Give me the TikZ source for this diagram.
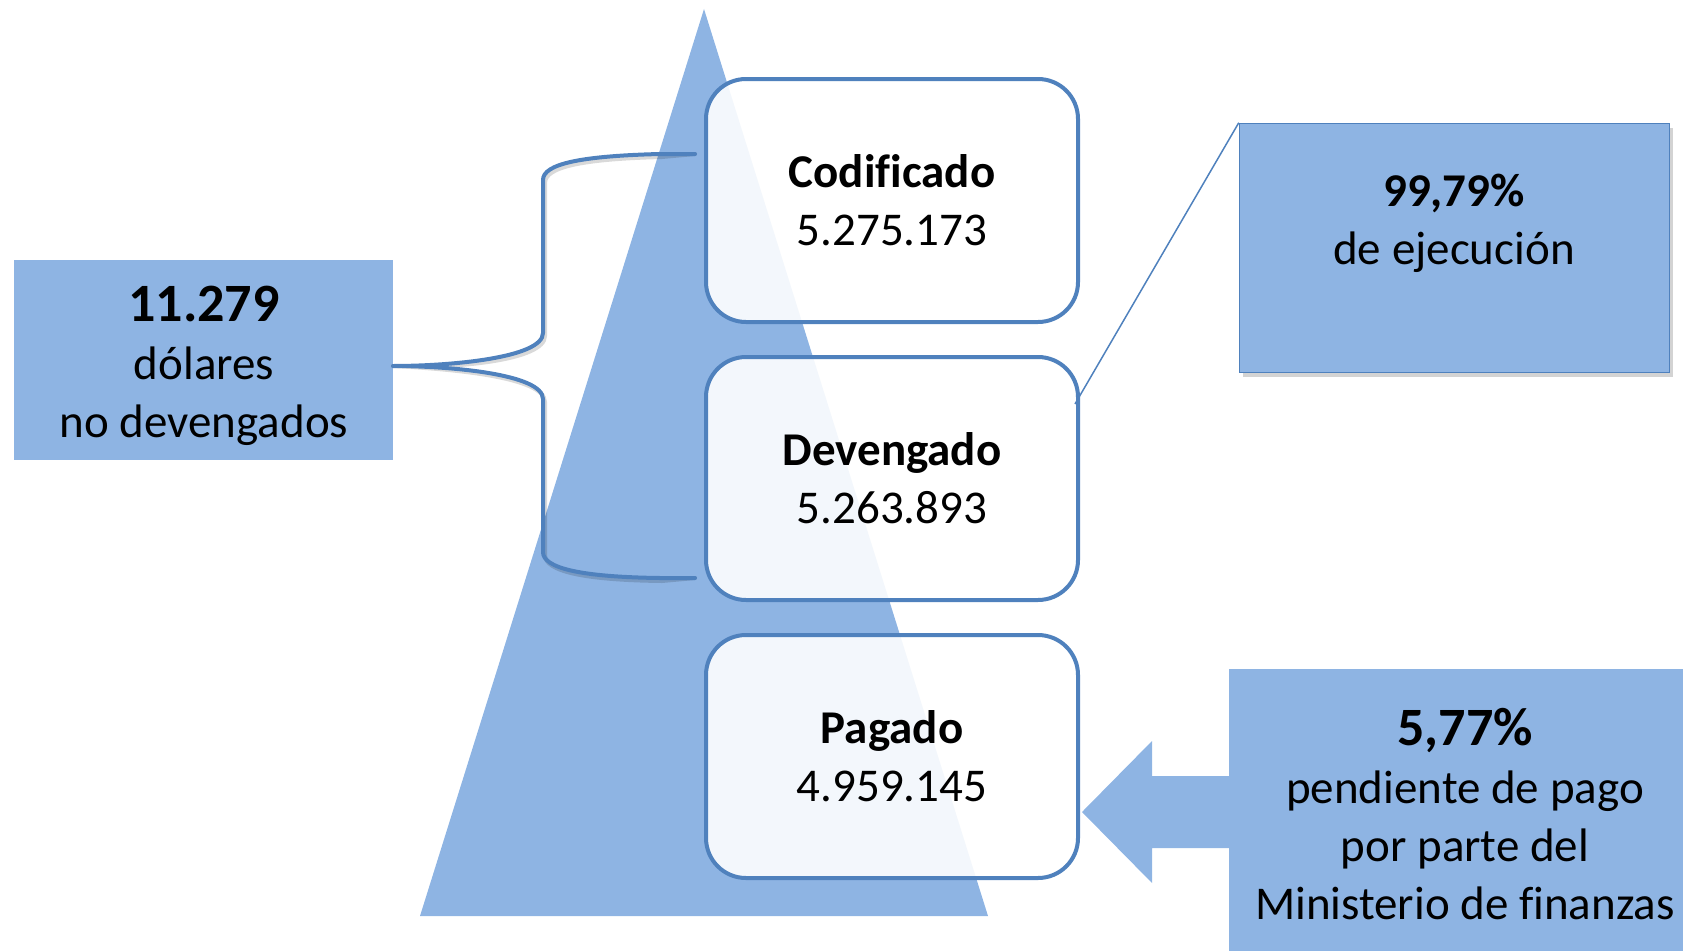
\documentclass[tikz,border=0pt]{standalone}
\usepackage{fontspec}
\setmainfont{Carlito}[Ligatures=NoCommon]
\usetikzlibrary{shadows}
\definecolor{fillblue}{HTML}{8EB4E3}
\definecolor{lineblue}{HTML}{4F81BD}
\newcommand{\bigfirst}[1]{{\fontsize{54}{64}\selectfont\textbf{#1}}}
\begin{document}
\begin{tikzpicture}[x=1pt,y=-1pt,
  txt/.style={font=\fontsize{47}{58}\selectfont, align=center, text=black},
  stage/.style={txt, draw=lineblue, line width=4pt, rounded corners=40pt, fill=white, fill opacity=0.9, text opacity=1, minimum width=372pt, minimum height=243pt, inner sep=0pt},
  infobox/.style={fill=fillblue, inner sep=0pt},
  bracestyle/.style={draw=lineblue, line width=4pt, line cap=round, line join=round},
  calloutline/.style={draw=lineblue, line width=1.5pt}
]
\useasboundingbox (0,0) rectangle (1683,950);
% pyramid
\fill[fillblue] (704,9) -- (988,916) -- (420,916) -- cycle;
% stages
\node[stage] (cod) at (892,200.5) {\textbf{Codificado}\\5.275.173};
\node[stage] (dev) at (892,478.5) {\textbf{Devengado}\\5.263.893};
\node[stage] (pag) at (892,756.5) {\textbf{Pagado}\\4.959.145};
% left box
\node[infobox, minimum width=379pt, minimum height=200pt] (nodev) at (203.5,360) {};
\node[txt] (nodevtxt) at (204,366) {\bigfirst{11.279}\\dólares\\no devengados};
% brace
\coordinate (btip) at (393,366);
\coordinate (btop) at (695,154);
\coordinate (bbot) at (695,578);
\draw[bracestyle, black, opacity=0.15, shift={(2,3)}] (btop) -- (660,154) .. controls (580,156) and (543,164) .. (543,180) -- (543,333) .. controls (543,358) and (450,366) .. (btip) .. controls (450,366) and (543,374) .. (543,399) -- (543,552) .. controls (543,568) and (580,577) .. (660,578) -- (bbot);
\draw[bracestyle] (btop) -- (660,154) .. controls (580,156) and (543,164) .. (543,180) -- (543,333) .. controls (543,358) and (450,366) .. (btip) .. controls (450,366) and (543,374) .. (543,399) -- (543,552) .. controls (543,568) and (580,577) .. (660,578) -- (bbot);
% right top callout
\node[infobox, calloutline, minimum width=430pt, minimum height=249pt, drop shadow={opacity=0.35, shadow xshift=3pt, shadow yshift=-4pt}] (ejec) at (1454.5,248) {};
\node[txt] (ejectxt) at (1454,223) {\textbf{99,79\%}\\de ejecución};
\coordinate (cl) at (1075,404);
\draw[calloutline] (ejec.north west) -- (cl);
% bottom right box
\node[infobox, minimum width=470pt, minimum height=300pt, anchor=north west] (pend) at (1229,669) {};
\node[txt] (pendtxt) at (1465,814) {\bigfirst{5,77\%}\\pendiente de pago\\por parte del\\Ministerio de finanzas};
% arrow
\fill[fillblue] (1082,812) -- (1152,741) -- (1152,776) -- (pend.west |- 0,776) -- (pend.west |- 0,848) -- (1152,848) -- (1152,883) -- cycle;
\end{tikzpicture}
\end{document}
